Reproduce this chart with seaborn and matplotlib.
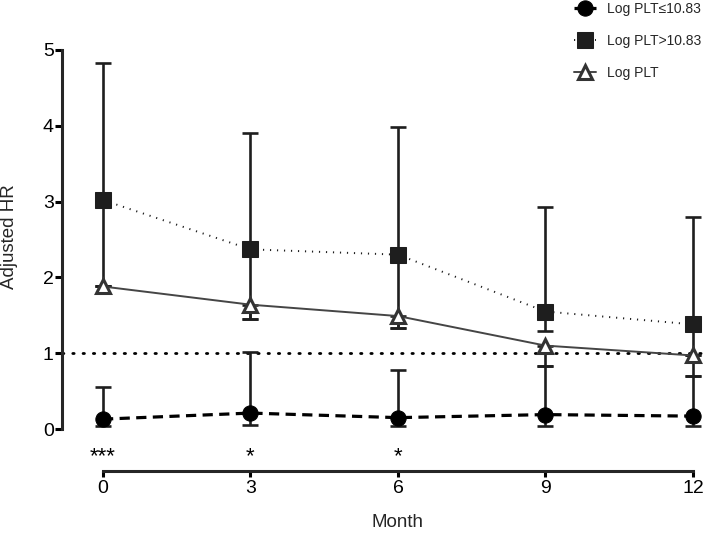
import pandas as pd
import seaborn as sns
import matplotlib.pyplot as plt

# values
months = [0, 3, 6, 9, 12]

low_hr = [0.13, 0.21, 0.15, 0.19, 0.17]
low_lo = [0.04, 0.05, 0.04, 0.04, 0.04]
low_hi = [0.55, 1.01, 0.78, 0.83, 0.70]

high_hr = [3.02, 2.37, 2.30, 1.55, 1.38]
high_lo = [1.88, 1.45, 1.33, 1.29, 0.97]
high_hi = [4.83, 3.90, 3.99, 2.93, 2.80]

all_hr = [1.88, 1.64, 1.49, 1.10, 0.97]
all_lo = [1.88, 1.45, 1.33, 0.83, 0.70]

stars = ["***", "*", "*", "", ""]

labels = ["Log PLT\u226410.83", "Log PLT>10.83", "Log PLT"]

df = pd.DataFrame({"month": months,
                   "low": low_hr, "high": high_hr, "all": all_hr})

sns.set_theme(style="ticks")
plt.rcParams["font.family"] = ["Liberation Sans", "DejaVu Sans"]

fig = plt.figure(figsize=(7.04, 5.41), dpi=100)
ax = fig.add_axes([62 / 704, 112 / 541, 642 / 704, 379 / 541])

ink = "#1e1e1e"
ebkw = dict(fmt="none", ecolor=ink, elinewidth=1.9, capsize=6, capthick=1.9,
            zorder=2, clip_on=False)

# error bars first so markers sit on top
ax.errorbar(months, high_hr,
            yerr=[[h - l for h, l in zip(high_hr, high_lo)],
                  [u - h for h, u in zip(high_hr, high_hi)]], **ebkw)
ax.errorbar(months, all_hr,
            yerr=[[h - l for h, l in zip(all_hr, all_lo)],
                  [0] * len(all_hr)], **ebkw)
ax.errorbar(months, low_hr,
            yerr=[[h - l for h, l in zip(low_hr, low_lo)],
                  [u - h for h, u in zip(low_hr, low_hi)]], **ebkw)

# reference line at HR = 1
ax.axhline(1, color="black", lw=2.0, linestyle=(0, (0.5, 3.2)),
           dash_capstyle="round", zorder=1)

sns.lineplot(data=df, x="month", y="low", ax=ax, color="black",
             linestyle=(0, (3.2, 2.0)), lw=2.3, marker="o", markersize=11,
             markeredgecolor="black", markerfacecolor="black",
             label=labels[0], zorder=4, clip_on=False)
sns.lineplot(data=df, x="month", y="high", ax=ax, color=ink,
             linestyle=(0, (0.6, 3.0)), lw=1.4, marker="s", markersize=11,
             markeredgecolor=ink, markerfacecolor=ink,
             label=labels[1], zorder=4, clip_on=False)
sns.lineplot(data=df, x="month", y="all", ax=ax, color="#454545",
             linestyle="-", lw=1.4, marker="^", markersize=10.5,
             markeredgewidth=2.2, markeredgecolor="#333333",
             markerfacecolor="white",
             label=labels[2], zorder=5, clip_on=False)

for m, s in zip(months, stars):
    if s:
        ax.text(m, -0.074, s, transform=ax.get_xaxis_transform(),
                ha="center", va="center", fontsize=16, color="black")

ax.set_xlim(-0.834, 12.224)
ax.set_ylim(0, 5)
ax.set_xticks(months)
ax.set_yticks([0, 1, 2, 3, 4, 5])

for side in ["top", "right"]:
    ax.spines[side].set_visible(False)
ax.spines["left"].set_bounds(0, 5)
ax.spines["left"].set_linewidth(2.2)
ax.spines["bottom"].set_bounds(0, 12)
ax.spines["bottom"].set_linewidth(2.2)
ax.spines["bottom"].set_position(("outward", 30))
ax.tick_params(axis="y", length=5, width=2.2, pad=1, labelsize=14,
               colors="black")
ax.tick_params(axis="x", length=4, width=2.2, pad=3, labelsize=14,
               colors="black")

ax.set_xlabel("Month", fontsize=13.5)
ax.set_ylabel("Adjusted HR", fontsize=13.5)
ax.xaxis.set_label_coords((398 - 62) / 642, -0.225)
ax.yaxis.set_label_coords(-0.068, 0.507)

ax.legend(loc="upper left", bbox_to_anchor=(574 / 704, 1 - 2 / 541),
          bbox_transform=fig.transFigure, frameon=False, fontsize=10,
          handlelength=1.6, handletextpad=0.8, labelspacing=1.3,
          borderpad=0, borderaxespad=0)

fig.savefig("out.png", dpi=100)
